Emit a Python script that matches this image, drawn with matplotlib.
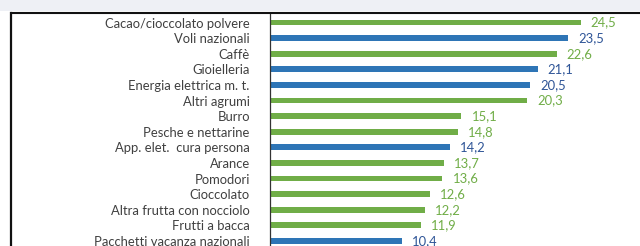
import matplotlib
matplotlib.use("Agg")
import matplotlib.pyplot as plt
from matplotlib.patches import Rectangle
from matplotlib.lines import Line2D

categories = ["Cacao/cioccolato polvere", "Voli nazionali", "Caffè", "Gioielleria",
              "Energia elettrica m. t.", "Altri agrumi", "Burro", "Pesche e nettarine",
              "App. elet.  cura persona", "Arance", "Pomodori", "Cioccolato",
              "Altra frutta con nocciolo", "Frutti a bacca", "Pacchetti vacanza nazionali"]
values = [24.5, 23.5, 22.6, 21.1, 20.5, 20.3, 15.1, 14.8, 14.2, 13.7, 13.6, 12.6, 12.2, 11.9, 10.4]
groups = ["g", "b", "g", "b", "b", "g", "g", "g", "b", "g", "g", "g", "g", "g", "b"]

bar_colors = {"g": "#70AD47", "b": "#2E75B6"}
label_colors = {"g": "#70AD47", "b": "#2F5597"}

W, H = 640, 246
fig = plt.figure(figsize=(W / 100, H / 100), dpi=100)
fig.patch.set_facecolor("white")

# top light band
fig.patches.append(Rectangle((0, 1 - 11 / H), 1, 11 / H, transform=fig.transFigure,
                             facecolor="#EEF0F5", edgecolor="none", zorder=0))
# frame lines
fig.add_artist(Line2D([12 / W, 1], [1 - 12.5 / H] * 2, transform=fig.transFigure,
                      color="#111111", lw=1.5))
fig.add_artist(Line2D([10.5 / W] * 2, [0, 1 - 13 / H], transform=fig.transFigure,
                      color="#111111", lw=1.6))

left_px, top_px = 270, 14
ax = fig.add_axes([left_px / W, 0, 1 - left_px / W, 1 - top_px / H])
px_per_unit = 12.68
ax.set_xlim(0, (W - left_px) / px_per_unit)
row_h = 15.6
first_c = 22.5
y_top = (top_px - first_c) / row_h
y_bot = (H - first_c) / row_h
ax.set_ylim(y_bot, y_top)

ypos = list(range(len(categories)))
ax.barh(ypos, values, height=0.37, color=[bar_colors[g] for g in groups], zorder=2)

font = ["Lato", "DejaVu Sans"]
for y, v, g in zip(ypos, values, groups):
    ax.text(v + 0.8, y, f"{v:.1f}".replace(".", ","), va="center", ha="left",
            color=label_colors[g], fontsize=9.4, family=font)

ax.set_yticks(ypos)
ax.set_yticklabels(categories, fontsize=9.4, family=font, color="#404040")
ax.tick_params(axis="y", length=0, pad=14.5)
ax.set_xticks([])
for s in ["top", "right", "bottom"]:
    ax.spines[s].set_visible(False)
ax.spines["left"].set_color("#333333")
ax.spines["left"].set_linewidth(0.9)

fig.savefig("out.png", dpi=100)
